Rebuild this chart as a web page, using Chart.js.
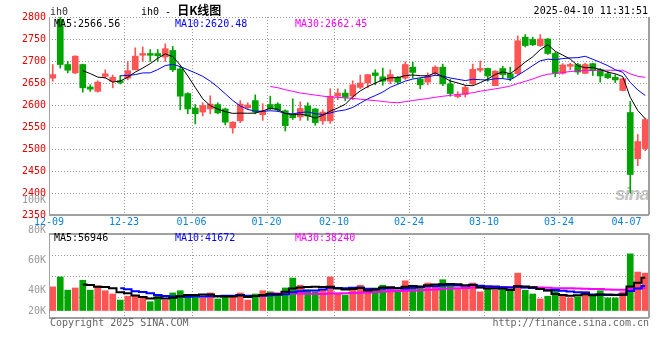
<!DOCTYPE html>
<html lang="zh-CN">
<head>
<meta charset="UTF-8" />
<title>ih0 - 日K线图</title>
<script src="https://cdn.jsdelivr.net/npm/chart.js@4"></script>
<style>
    body { margin: 0; background: #fff; }
    #wrap { position: relative; width: 660px; height: 360px; overflow: hidden; font: 10px "DejaVu Sans Mono", monospace; }
    canvas { position: absolute; left: 0; }
    .t { position: absolute; line-height: 10px; white-space: pre; }
    .logo { position: absolute; left: 615px; top: 184px; font: italic bold 19px/20px "Liberation Sans", sans-serif; color: #c4c4c4; letter-spacing: -1px; }
    .cn { font: bold 12px/10px "Noto Sans CJK SC", sans-serif; }
</style>
</head>
<body>
<div id="wrap">
    <div class="logo">sina</div>
    <canvas id="kline" width="660" height="232" style="top:0"></canvas>
    <canvas id="vol" width="660" height="140" style="top:190px"></canvas>

    <!-- textos de cabecera -->
    <div class="t" style="left:50px;top:7px;color:#333">ih0</div>
    <div class="t" style="left:141px;top:5px;color:#000">ih0 - <span class="cn">日K线图</span></div>
    <div class="t" style="right:12px;top:6px;color:#000">2025-04-10 11:31:51</div>

    <div class="t" style="left:54px;top:19px;color:#000">MA5:2566.56</div>
    <div class="t" style="left:175px;top:19px;color:#0000ff">MA10:2620.48</div>
    <div class="t" style="left:295px;top:19px;color:#ff00ff">MA30:2662.45</div>

    <div class="t" style="left:54px;top:233px;color:#000">MA5:56946</div>
    <div class="t" style="left:175px;top:233px;color:#0000ff">MA10:41672</div>
    <div class="t" style="left:295px;top:233px;color:#ff00ff">MA30:38240</div>

    <div class="t" style="left:50px;top:318px;color:#666">Copyright 2025 SINA.COM</div>
    <div class="t" style="right:11px;top:318px;color:#666">http://finance.sina.com.cn</div>
</div>
<script>
// fechas (sesiones)
const dates = [
    '12-09','12-10','12-11','12-12','12-13','12-16','12-17','12-18','12-19','12-20',
    '12-23','12-24','12-25','12-26','12-27','12-30','12-31','01-02','01-03','01-06',
    '01-07','01-08','01-09','01-10','01-13','01-14','01-15','01-16','01-17','01-20',
    '01-21','01-22','01-23','01-24','01-27','02-05','02-06','02-07','02-10','02-11',
    '02-12','02-13','02-14','02-17','02-18','02-19','02-20','02-21','02-24','02-25',
    '02-26','02-27','02-28','03-03','03-04','03-05','03-06','03-07','03-10','03-11',
    '03-12','03-13','03-14','03-17','03-18','03-19','03-20','03-21','03-24','03-25',
    '03-26','03-27','03-28','03-31','04-01','04-02','04-03','04-07','04-08','04-09'
];
const tickDates = ['12-09','12-23','01-06','01-20','02-10','02-24','03-10','03-24','04-07'];
const gridDates = ['12-23','01-06','01-20','02-10','02-24','03-10','03-24'];

const open = [
    2661,2795,2692,2673,2692,2641,2631,2665,2654,2655,
    2661,2680,2713,2717,2717,2709,2724,2682,2626,2593,
    2584,2591,2601,2591,2548,2564,2594,2610,2578,2601,
    2602,2587,2577,2573,2598,2591,2564,2564,2620,2627,
    2620,2640,2650,2673,2664,2654,2663,2661,2686,2659,
    2652,2671,2686,2648,2619,2624,2648,2679,2683,2644,
    2683,2671,2671,2754,2749,2735,2750,2717,2672,2688,
    2692,2672,2694,2681,2671,2663,2633,2583,2478,2501
];
const high = [
    2692,2800,2699,2712,2693,2646,2655,2680,2668,2667,
    2699,2730,2732,2726,2726,2739,2733,2688,2628,2601,
    2605,2621,2605,2593,2562,2610,2605,2623,2603,2620,
    2605,2589,2614,2607,2605,2592,2589,2637,2637,2635,
    2655,2668,2670,2680,2684,2680,2665,2698,2697,2661,
    2673,2689,2693,2658,2630,2645,2693,2700,2684,2678,
    2688,2686,2757,2760,2754,2760,2751,2720,2694,2695,
    2695,2695,2695,2683,2677,2669,2661,2608,2533,2570
];
const low = [
    2654,2684,2673,2671,2629,2631,2629,2661,2639,2648,
    2657,2680,2699,2699,2699,2699,2676,2589,2580,2557,
    2575,2580,2580,2555,2536,2560,2590,2580,2565,2589,
    2585,2541,2567,2565,2565,2554,2556,2558,2612,2610,
    2612,2637,2639,2646,2645,2648,2648,2658,2661,2637,
    2646,2667,2644,2620,2616,2618,2645,2675,2654,2644,
    2661,2655,2669,2732,2735,2733,2715,2664,2670,2680,
    2670,2671,2667,2652,2660,2651,2632,2400,2462,2496
];
const close = [
    2669,2692,2679,2711,2639,2636,2652,2671,2663,2651,
    2678,2711,2717,2713,2712,2728,2680,2620,2591,2580,
    2599,2602,2582,2561,2561,2602,2600,2584,2586,2591,
    2589,2553,2571,2592,2575,2560,2584,2620,2627,2617,
    2646,2650,2669,2667,2654,2669,2652,2692,2674,2646,
    2667,2686,2648,2626,2624,2640,2681,2683,2666,2677,
    2669,2661,2746,2735,2737,2750,2717,2672,2691,2692,
    2675,2692,2678,2666,2662,2657,2660,2442,2517,2567
];
const ma5 = [
    null,null,null,null,
    2678,2671.4,2663.4,2661.8,2652.2,2654.6,2663,2674.8,2684,2694,
    2706.2,2716.2,2710,2690.6,2666.2,2639.8,2614,2598.4,2590.8,2584.8,
    2581,2581.6,2581.2,2581.6,2586.6,2592.6,2590,2580.6,2578,2579.2,
    2576,2570.2,2576.4,2586.2,2593.2,2601.6,2618.8,2632,2641.8,2649.8,
    2657.2,2661.8,2662.2,2666.8,2668.2,2666.6,2666.2,2673,2664.2,2654.6,
    2650.2,2644.8,2643.8,2650.8,2658.8,2669.4,2675.2,2671.2,2683.8,2697.6,
    2709.6,2725.8,2737,2722.2,2713.4,2704.4,2689.4,2684.4,2685.6,2680.6,
    2674.6,2671,2664.6,2617.4,2587.6,2568.6
];
const ma10 = [
    null,null,null,null,null,null,null,null,null,
    2666.3,2667.2,2669.1,2672.9,2673.1,2680.4,2689.6,2692.4,2687.3,2680.1,
    2673,2665.1,2654.2,2640.7,2625.5,2610.4,2597.8,2589.8,2586.2,2585.7,
    2586.8,2585.8,2580.9,2579.8,2582.9,2584.3,2580.1,2578.5,2582.1,2586.2,
    2588.8,2594.5,2604.2,2614,2621.5,2629.4,2640.3,2647.1,2654.3,2659,
    2661.9,2664,2667.6,2665.5,2661.4,2658.4,2655.5,2658.4,2657.5,2656.7,
    2659.8,2660,2657.5,2667.3,2678.2,2689.5,2700.5,2704.1,2703,2705.5,
    2707,2707.6,2710.7,2703.9,2697,2689.5,2680.2,2674.5,2651.5,2634.1,
    2621.6
];
const ma30 = [
    null,null,null,null,null,null,null,null,null,null,
    null,null,null,null,null,null,null,null,null,null,
    null,null,null,null,null,null,null,null,null,
    2642,2639.4,2634.7,2631.1,2627.2,2625,2622.5,2620.2,2618.5,2617.3,
    2616.2,2615.1,2613.1,2611.5,2610,2608,2606.1,2605.1,2607.5,2610.3,
    2612.5,2614.8,2617.6,2619.8,2621.9,2624,2625.3,2628,2631.3,2634,
    2636.8,2639.5,2643.1,2648.9,2653.7,2659.1,2665.4,2669.9,2671.6,2673.7,
    2676.2,2677.2,2678.6,2678.9,2678.9,2679.1,2678.7,2679,2670.7,2665.4,
    2662.8
];

// volumen en miles de contratos
const volume = [
    43,61,37,41,55,37,45,36,30,19,
    26,26,23,16,26,19,32,36,28,26,
    23,32,21,26,25,32,19,30,36,34,
    30,41,59,46,37,34,37,61,32,28,
    37,46,39,41,46,39,37,54,46,42,
    50,45,56,48,39,39,50,34,39,37,
    37,39,68,37,30,21,26,37,28,23,
    25,34,28,36,23,23,34,103,70,68
];
const volMa5 = [
    null,null,null,null,
    47.4,46.2,43,42.8,40.6,33.4,31.2,27.4,24.8,22,
    23.4,22,23.2,25.8,28.2,28.2,29,29,26,25.6,
    25.4,27.2,24.6,26.4,28.4,30.2,29.8,34.2,40,42,
    42.6,43.4,42.6,43,40.2,38.4,39,40.8,36.4,38.2,
    41.8,42.2,40.4,43.4,44.4,43.6,45.8,47.4,47.8,48.2,
    47.6,45.4,46.4,42,40.2,39.8,39.4,37.2,44,43.6,
    42.2,39,36.4,30.2,28.4,27,27.8,29.4,27.6,29.2,
    29.2,28.8,28.8,43.8,50.6,59.6
];
const volMa10 = [
    null,null,null,null,null,null,null,null,null,
    40.4,38.7,35.2,33.8,31.3,28.4,26.6,25.3,25.3,25.1,
    25.8,25.5,26.1,25.9,26.9,26.8,28.1,26.8,26.2,27,
    27.8,28.5,29.4,33.2,35.2,36.4,36.6,38.4,41.5,41.1,
    40.5,41.2,41.7,39.7,39.2,40.1,40.6,40.6,39.9,41.3,
    42.7,44,43.9,45.6,46.3,45.6,45.6,46.9,44.9,44.2,
    43.7,42.4,41.8,43,41.9,41,39.2,36.8,37.1,36,
    34.6,33.4,32.9,28.9,28.8,28.1,28.3,29.1,35.7,39.9,
    44.4
];
const volMa30 = [
    null,null,null,null,null,null,null,null,null,null,
    null,null,null,null,null,null,null,null,null,null,
    null,null,null,null,null,null,null,null,null,
    31.3,30.9,30.2,31,31.1,30.5,30.4,30.2,31,31.1,
    31.4,31.7,32.4,32.9,33.8,34.4,35.1,35.3,35.9,36.5,
    37,37.9,38.3,39.5,40.2,40.7,40.9,42,42.1,42.2,
    42.3,42.5,42.5,42.8,42.5,42.2,41.8,41.4,40.6,40.5,
    40.3,39.9,39.5,39.2,39,38.2,37.7,37.6,39.2,40,
    40.9
];
const volTickLabels = ['100K','80K','60K','40K','20K'];

const UP = '#ff5454';
const DOWN = '#00a400';
const GRID = '#9a9a9a';
const FONT = { family: 'DejaVu Sans Mono', size: 10 };

const candleColor = close.map((c, i) => c >= open[i] ? UP : DOWN);

// rejilla punteada (puntos de 1px cada 3px), sobre las escalas del gráfico
const dottedGrid = {
    id: 'dottedGrid',
    beforeDatasetsDraw(chart) {
        const { ctx, chartArea: a, scales: { x, y } } = chart;
        const half = (x.getPixelForValue(1) - x.getPixelForValue(0)) / 2;
        ctx.save();
        ctx.fillStyle = GRID;
        y.ticks.forEach(t => {
            const py = Math.round(y.getPixelForValue(t.value));
            for (let px = Math.round(a.left); px < a.right; px += 3) ctx.fillRect(px, py, 1, 1);
        });
        dates.forEach((d, i) => {
            if (!gridDates.includes(d)) return;
            const px = Math.round(x.getPixelForValue(i) - half);
            for (let py = Math.round(a.top); py < a.bottom; py += 3) ctx.fillRect(px, py, 1, 1);
        });
        ctx.restore();
    }
};

// marco gris del panel
function framePlugin(top) {
    return {
        id: 'frame',
        afterDraw(chart) {
            const { ctx, chartArea: a } = chart;
            ctx.save();
            ctx.fillStyle = '#a0a0a0';
            ctx.fillRect(Math.round(a.left), a.top, 1, a.bottom - a.top);
            ctx.fillRect(Math.round(a.right) - 1, a.top, 2, a.bottom - a.top);
            ctx.fillRect(Math.round(a.left), Math.round(a.bottom) - 1, a.right - a.left, 2);
            if (top) ctx.fillRect(Math.round(a.left), Math.round(a.top) - 1, a.right - a.left, 2);
            ctx.restore();
        }
    };
}

function lineDs(data, color, width, stepped) {
    return { type: 'line', data, borderColor: color, borderWidth: width, pointRadius: 0,
             tension: 0, stepped: stepped || false, spanGaps: false, order: 0 };
}

// Gráfico de velas
new Chart(document.getElementById('kline'), {
    type: 'bar',
    data: {
        labels: dates,
        datasets: [
            lineDs(ma5, '#000000', 1),
            lineDs(ma10, '#0000ff', 1),
            lineDs(ma30, '#ff00ff', 1),
            { data: dates.map((d, i) => [open[i], close[i]]), backgroundColor: candleColor,
              barThickness: 6, minBarLength: 1, grouped: false, order: 1 },
            { data: dates.map((d, i) => [low[i], high[i]]), backgroundColor: candleColor,
              barThickness: 1, grouped: false, order: 2 }
        ]
    },
    options: {
        responsive: false,
        animation: false,
        devicePixelRatio: 1,
        layout: { padding: { top: 17, right: 11, left: 0, bottom: 0 } },
        plugins: { legend: { display: false }, tooltip: { enabled: false } },
        scales: {
            x: {
                offset: true,
                grid: { display: false, drawTicks: false },
                border: { display: false },
                ticks: {
                    autoSkip: false, maxRotation: 0, minRotation: 0, padding: 1,
                    labelOffset: -3.75, color: '#0f82d7', font: FONT,
                    callback: (v, i) => tickDates.includes(dates[i]) ? dates[i] : ''
                },
                afterFit: (s) => { s.height = 17; }
            },
            y: {
                min: 2350, max: 2800,
                ticks: { stepSize: 50, color: '#e60000', font: FONT, padding: 3, callback: (v) => String(v) },
                grid: { display: false, drawTicks: false },
                border: { display: false },
                afterFit: (s) => { s.width = 49; }
            }
        }
    },
    plugins: [dottedGrid, framePlugin(false)]
});

// etiquetas grises del volumen (posición propia de sina)
const volLabels = {
    id: 'volLabels',
    afterDraw(chart) {
        const { ctx, chartArea: a } = chart;
        ctx.save();
        ctx.fillStyle = '#9a9a9a';
        ctx.font = '10px "DejaVu Sans Mono"';
        ctx.textAlign = 'right';
        ctx.textBaseline = 'middle';
        volTickLabels.forEach((t, k) => {
            const y = Math.min(a.top - 34 + 30 * k, a.bottom - 7);
            ctx.fillText(t, a.left - 3, y);
        });
        ctx.restore();
    }
};

// Gráfico de volumen
new Chart(document.getElementById('vol'), {
    type: 'bar',
    data: {
        labels: dates,
        datasets: [
            lineDs(volMa5, '#000000', 2, 'middle'),
            lineDs(volMa10, '#0000ff', 2, 'middle'),
            lineDs(volMa30, '#ff00ff', 2, 'middle'),
            { data: volume, backgroundColor: candleColor, barThickness: 6, order: 1 }
        ]
    },
    options: {
        responsive: false,
        animation: false,
        devicePixelRatio: 1,
        layout: { padding: { top: 44, right: 11, left: 0, bottom: 12 } },
        plugins: { legend: { display: false }, tooltip: { enabled: false } },
        scales: {
            x: {
                offset: true,
                grid: { display: false, drawTicks: false },
                border: { display: false },
                ticks: { display: false, autoSkip: false },
                afterFit: (s) => { s.height = 0; }
            },
            y: {
                min: -13.6, max: 139.1,
                ticks: { display: false },
                grid: { display: false, drawTicks: false },
                border: { display: false },
                afterBuildTicks: (s) => {
                    const step = (s.max - s.min) / 4;
                    s.ticks = [1, 2, 3].map(k => ({ value: s.min + k * step }));
                },
                afterFit: (s) => { s.width = 49; }
            }
        }
    },
    plugins: [dottedGrid, framePlugin(true), volLabels]
});
</script>
</body>
</html>
